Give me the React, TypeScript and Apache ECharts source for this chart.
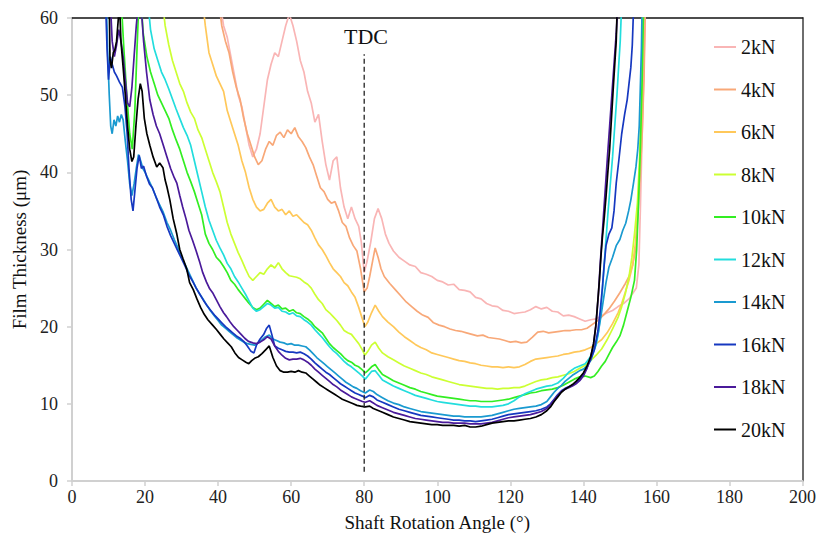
import React, { useEffect, useRef } from "react";
import * as echarts from "echarts";

const loadNames = ["2kN", "4kN", "6kN", "8kN", "10kN", "12kN", "14kN", "16kN", "18kN", "20kN"];
const loadColors = ["#F9B5B5", "#F8A878", "#FFC85A", "#CCFF33", "#33EE22", "#22DDDD", "#1A9AD0", "#1638C0", "#4A1A9A", "#000000"];

const xTicks = { min: 0, max: 200, interval: 20 };
const yTicks = { min: 0, max: 60, interval: 10 };
const tdcAngle = 80;
const tdcSpan = [1.2, 55.3];

const film2kN = [[40.5,62],[41.5,59],[42.5,57.5],[43.5,55],[44.5,52.5],[45.5,50],[46.5,48.5],[47.5,46],[48.5,43.5],[49.5,42],[50.5,43],[51.5,45],[52.5,48.5],[53.5,52],[54.5,54],[55.5,55.5],[56.5,55],[57.5,57],[58.5,59],[59.5,60.5],[60.5,59],[61.5,57],[62.5,54.5],[63.5,53],[64.5,50.5],[65.5,49],[66.5,46.5],[67.5,47.5],[68.5,44],[69.5,41],[70.5,39],[71.5,41.5],[72.5,42],[73.5,38],[74.5,35.5],[75.5,34],[76.5,35.5],[77.5,34],[78.5,33],[79.2,31],[80,27],[80.8,28.5],[81.8,31],[82.8,34],[83.8,35.3],[84.8,34],[85.8,32],[86.8,30.8],[88,29.8],[89.5,29],[91,28.5],[92.5,28],[94,27.8],[95.5,27],[97,26.8],[98.5,26.5],[100,26],[101.5,25.8],[103,25.4],[104.5,25.5],[106,24.8],[107.5,24.7],[109,24.5],[110.5,23.8],[112,23.6],[113.5,23],[115,22.7],[116.5,22.6],[118,22.1],[119.5,22],[121,21.7],[122.5,21.8],[124,21.9],[125.5,22.2],[127,22.6],[128.5,22.3],[130,22.5],[131.5,22],[133,21.9],[134.5,21.4],[136,21.5],[137.5,21.3],[139,21],[140.5,20.7],[142,20.9],[143.5,21],[145,21.4],[146.5,21.8],[148,22.1],[149.5,22.6],[151,23],[152.5,23.6],[153.5,24.3],[154.5,25],[155.2,28],[155.6,35],[156,43],[156.5,52],[157,62]];

const film4kN = [[40.2,62],[41,59],[42,57],[43,55.5],[44,53],[45,51],[46,49.5],[47,47],[48,45],[49,43.5],[50,42],[51,41],[52,41.5],[53,43],[54,44],[55,43.5],[56,44.8],[57,45.2],[58,44.5],[59,45.5],[60,45],[61,45.8],[62,44.6],[63,44],[64,43.2],[65,42],[66,41],[67,39.5],[68,38],[69,37.5],[70,36.5],[71,36],[72,36.2],[73,35],[74,33.5],[75,33],[76,31.5],[77,30.5],[78,29.8],[79,27.5],[80,24.5],[80.8,25],[81.5,26.5],[82.3,28.5],[83,30.2],[83.8,29],[84.6,27.5],[85.5,26.5],[87,25.6],[88.5,24.8],[90,24],[91.5,23.2],[93,22.6],[94.5,22],[96,21.5],[97.5,21.2],[99,20.5],[100.5,20.2],[102,20],[103.5,19.7],[105,19.5],[106.5,19.4],[108,19.2],[109.5,19],[111,18.8],[112.5,18.9],[114,18.6],[115.5,18.5],[117,18.4],[118.5,18.2],[120,18],[121.5,18.1],[123,17.9],[124.5,18],[126,18.6],[127.5,19.3],[129,19.4],[130.5,19.2],[132,19.3],[133.5,19.4],[135,19.5],[136.5,19.5],[138,19.6],[139.5,19.6],[141,19.8],[142.5,20.3],[144,20.8],[145.5,21.5],[147,22.3],[148.5,23.3],[150,24.4],[151.5,25.6],[152.5,26.5],[153.5,28],[154.3,30],[155,35],[155.6,40],[156.1,45],[156.6,52],[157,62]];

const film6kN = [[35.8,62],[36.5,59],[37.5,55.5],[38.5,54],[39.5,52.5],[40.5,51.5],[41.5,50.5],[42.5,48],[43.5,46.5],[44.5,45],[45.5,43.5],[46.5,41.5],[47.5,40],[48.5,38],[49.5,36.5],[50.5,35.5],[51.5,35],[52.5,35.2],[53.5,36],[54.5,36.5],[55.5,35.5],[56.5,35],[57.5,35.2],[58.5,34.5],[59.5,35],[60.5,34.3],[61.5,34.5],[62.5,34],[63.5,33.5],[64.5,33.2],[65.5,32.5],[66.5,31.5],[67.5,30.6],[68.5,30],[69.5,29.2],[70.5,28.3],[71.5,27.5],[72.5,27],[73.5,26.5],[74.5,25.7],[75.5,25.3],[76.5,24.5],[77.5,23.8],[78.5,22.5],[79.5,21],[80.2,20],[81,20.6],[82,21.8],[83,22.8],[84,22],[85,21.3],[86.5,20.6],[88,20],[89.5,19.3],[91,18.7],[92.5,18.2],[94,17.7],[95.5,17.3],[97,17],[98.5,16.6],[100,16.4],[101.5,16.2],[103,16],[104.5,15.8],[106,15.6],[107.5,15.5],[109,15.3],[110.5,15.2],[112,15],[113.5,14.9],[115,14.8],[116.5,14.8],[118,14.7],[119.5,14.8],[121,14.7],[122.5,14.8],[124,15.1],[125.5,15.5],[127,15.8],[128.5,15.9],[130,16],[131.5,16.1],[133,16.2],[134.5,16.4],[136,16.5],[137.5,16.7],[139,16.8],[140.5,17],[142,17.3],[143.5,17.8],[145,18.3],[146.5,19.2],[148,20.4],[149.5,21.8],[150.5,23],[151.5,24.5],[152.5,26],[153.5,28],[154.3,31],[155,36],[155.6,42],[156.1,50],[156.5,62]];

const film8kN = [[24.8,62],[25.5,59],[26.5,56.5],[27.5,54.5],[28.5,53],[29.5,51.5],[30.5,50.5],[31.5,49],[32.5,47.8],[33.5,47],[34.5,45.5],[35.5,44.5],[36.5,43],[37.5,41.5],[38.5,40],[39.5,38.8],[40.5,37.5],[41.5,35.5],[42.5,33.5],[43.5,32],[44.5,30.8],[45.5,29.6],[46.5,28.6],[47.5,27.5],[48.5,26.5],[49.5,26],[50.5,26.5],[51.5,27],[52.5,26.8],[53.5,27.5],[54.5,28],[55.5,27.6],[56.5,28.3],[57.5,27.5],[58.5,27],[59.5,26.6],[60.5,26.5],[61.5,26.4],[62.5,26.2],[63.5,25.8],[64.5,25.5],[65.5,25],[66.5,24.2],[67.5,23.5],[68.5,23],[69.5,22.2],[70.5,21.8],[71.5,21.3],[72.5,20.8],[73.5,20.2],[74.5,19.5],[75.5,19.2],[76.5,19],[77.5,18.4],[78.5,17.8],[79.5,17],[80.2,16.3],[81,16.8],[82,17.6],[83,18],[84,17.2],[85,16.6],[86.5,16.1],[88,15.7],[89.5,15.3],[91,14.9],[92.5,14.6],[94,14.3],[95.5,14],[97,13.8],[98.5,13.5],[100,13.3],[101.5,13.1],[103,12.9],[104.5,12.7],[106,12.5],[107.5,12.4],[109,12.3],[110.5,12.2],[112,12.1],[113.5,12],[115,12],[116.5,11.9],[118,12],[119.5,12],[121,12.1],[122.5,12.1],[124,12.3],[125.5,12.6],[127,12.9],[128.5,13.1],[130,13.2],[131.5,13.4],[133,13.5],[134.5,13.7],[136,13.9],[137.5,14.2],[139,14.6],[140.5,15],[142,15.6],[143.5,16.3],[145,17.1],[146.5,18.3],[148,19.7],[149.5,21.2],[150.5,22.6],[151.5,24.3],[152.5,26.5],[153.3,29],[154,32],[154.8,36],[155.4,42],[155.9,50],[156.3,62]];

const film10kN = [[13.5,62],[14.2,56],[15,50],[15.8,45],[16.5,43],[17.2,48],[17.8,56],[18.3,62],[19,61.5],[19.5,58],[20.5,55],[21.5,53],[22.5,51.5],[23.5,50],[24.5,49],[25.5,48],[26.5,47],[27.5,45.5],[28.5,44.2],[29.5,43],[30.5,41.5],[31.5,40],[32.5,38.8],[33.5,37.5],[34.5,36],[35.5,34.5],[36.5,32],[37.5,30.8],[38.5,30],[39.5,29],[40.5,28.5],[41.5,27.8],[42.5,27],[43.5,26],[44.5,25.5],[45.5,24.8],[46.5,24.2],[47.5,23.6],[48.5,23],[49.5,22.5],[50.5,22.2],[51.5,22.4],[52.5,22.9],[53.5,23.4],[54.5,23],[55.5,22.6],[56.5,22.8],[57.5,22.3],[58.5,22.4],[59.5,22],[60.5,22.2],[61.5,21.8],[62.5,21.7],[63.5,21.3],[64.5,21],[65.5,20.6],[66.5,20],[67.5,19.6],[68.5,19.2],[69.5,18.5],[70.5,17.8],[71.5,17.3],[72.5,16.9],[73.5,16.5],[74.5,16],[75.5,15.6],[76.5,15.4],[77.5,15],[78.5,14.8],[79.5,14.4],[80.3,14],[81,14.3],[82,14.8],[83,15.1],[84,14.4],[85,13.8],[86.5,13.4],[88,13],[89.5,12.7],[91,12.4],[92.5,12.1],[94,11.9],[95.5,11.6],[97,11.4],[98.5,11.2],[100,11],[101.5,10.9],[103,10.8],[104.5,10.7],[106,10.6],[107.5,10.5],[109,10.4],[110.5,10.4],[112,10.3],[113.5,10.3],[115,10.3],[116.5,10.4],[118,10.5],[119.5,10.6],[121,10.8],[122.5,11],[124,11.2],[125.5,11.4],[127,11.5],[128.5,11.7],[130,11.8],[131.5,11.9],[133,12.1],[134.5,12.4],[136,12.8],[137.5,13.2],[139,13.5],[140.5,13.6],[142,13.4],[143,13.6],[144,14.2],[145,14.9],[146,15.5],[147,16.4],[148,17.3],[149,18],[150,18.8],[151,20.2],[152,22],[153,23.8],[154,26],[154.6,30],[155.1,36],[155.6,43],[156.1,52],[156.5,62]];

const film12kN = [[20.8,62],[21.5,58.5],[22.5,56],[23.5,54.5],[24.5,53],[25.5,52],[26.5,50.8],[27.5,49.5],[28.5,48.2],[29.5,47],[30.5,45.8],[31.5,44.8],[32.5,43.5],[33.5,41.5],[34.5,39.5],[35.5,37.5],[36.5,35.5],[37.5,33.8],[38.5,32.5],[39.5,31.2],[40.5,30.2],[41.5,29.3],[42.5,28.2],[43.5,27.5],[44.5,26.5],[45.5,25.8],[46.5,25],[47.5,24.2],[48.5,23.3],[49.5,22.4],[50.5,22],[51.5,22.2],[52.5,22.6],[53.5,23],[54.5,22.8],[55.5,22.4],[56.5,22.5],[57.5,22],[58.5,21.9],[59.5,21.6],[60.5,21.8],[61.5,21.4],[62.5,21.3],[63.5,20.9],[64.5,20.6],[65.5,20.2],[66.5,19.6],[67.5,19.1],[68.5,18.6],[69.5,18],[70.5,17.4],[71.5,16.9],[72.5,16.5],[73.5,16],[74.5,15.5],[75.5,15.1],[76.5,14.8],[77.5,14.4],[78.5,14],[79.5,13.6],[80.3,13.2],[81,13.6],[82,14.2],[83,14.3],[84,13.7],[85,13.1],[86.5,12.7],[88,12.3],[89.5,12],[91,11.7],[92.5,11.4],[94,11.1],[95.5,10.9],[97,10.7],[98.5,10.5],[100,10.3],[101.5,10.2],[103,10.1],[104.5,10],[106,9.9],[107.5,9.8],[109,9.7],[110.5,9.7],[112,9.6],[113.5,9.6],[115,9.6],[116.5,9.7],[118,9.8],[119.5,10],[121,10.4],[122.5,10.9],[124,11.3],[125.5,11.6],[127,11.9],[128.5,12.1],[130,12.3],[131.5,12.4],[133,12.7],[134.5,13.3],[136,14.1],[137.5,14.6],[139,14.9],[140.5,15.2],[141.5,15.8],[142.5,16.6],[143.5,17.6],[144.2,19.5],[144.8,22],[145.4,26],[146,30],[146.7,34.5],[147.3,38],[148,42],[148.6,46],[149.2,50],[149.7,54],[150.1,57],[150.5,62]];

const film14kN = [[9.4,62],[9.8,55],[10.2,50],[10.6,46],[11,45],[11.5,46.8],[12,46],[12.5,47.3],[13,46.5],[13.5,47.5],[14,46.8],[14.6,44],[15.2,41.5],[15.8,38.5],[16.4,37],[17,38.5],[17.6,40.5],[18.2,42.3],[18.8,41.5],[19.4,40.5],[20,40],[21,39],[22,38],[23,36.8],[24,35.8],[25,34.8],[26,33.5],[27,32.5],[28,31.3],[29,30.2],[30,29],[31,28],[32,27],[33,26],[34,25],[35,24.2],[36,23.5],[37,22.7],[38,22],[39,21.4],[40,20.8],[41,20.2],[42,19.8],[43,19.4],[44,19],[45,18.6],[46,18.3],[47,18],[48,17.8],[49,17.7],[50,17.6],[51,17.9],[52,18.3],[53,18.7],[54,18.9],[55,18.4],[56,18.2],[57,18],[58,17.9],[59,17.7],[60,17.8],[61,17.6],[62,17.6],[63,17.5],[64,17.4],[65,17],[66,16.5],[67,16],[68,15.6],[69,15.2],[70,14.8],[71,14.4],[72,14],[73,13.6],[74,13.2],[75,12.8],[76,12.5],[77,12.2],[78,12],[79,11.7],[80.3,11.4],[81.5,11.8],[82.5,11.6],[83.5,11.2],[85,10.8],[86.5,10.4],[88,10.1],[89.5,9.9],[91,9.6],[92.5,9.4],[94,9.2],[95.5,9],[97,8.9],[98.5,8.8],[100,8.7],[101.5,8.6],[103,8.5],[104.5,8.4],[106,8.4],[107.5,8.3],[109,8.3],[110.5,8.3],[112,8.3],[113.5,8.4],[115,8.5],[116.5,8.7],[118,8.9],[119.5,9.1],[121,9.3],[122.5,9.4],[124,9.5],[125.5,9.6],[127,9.7],[128.5,9.9],[130,10.3],[131,10.9],[132,11.5],[133,12],[134,12.4],[135,12.9],[136,13.3],[137,13.7],[138,14],[139,14.3],[140,14.5],[141,14.9],[142,15.6],[143,17],[144,19],[144.8,21.3],[145.5,23.5],[146.2,25.7],[147,27.7],[148,29],[149,30.5],[150,31.3],[150.8,32.5],[151.6,33.4],[152.4,35],[153,36.4],[153.7,38.5],[154.4,40.7],[154.9,43],[155.3,46],[155.6,51],[155.9,56],[156.1,62]];

const film16kN = [[9.2,62],[9.6,56],[10,52],[10.5,55],[11,54],[11.6,53],[12.2,52.5],[13,51.7],[13.8,51],[14.5,48.5],[15.1,45],[15.6,40.5],[16.2,36.5],[16.7,35],[17.2,37.5],[17.8,40.5],[18.4,42.2],[19,40.5],[19.6,40.8],[20.4,39.5],[21.2,38.5],[22,38],[23,36.8],[24,35.5],[25,34.5],[26,33],[27,31.8],[28,30.8],[29,29.8],[30,28.8],[31,27.8],[32,26.7],[33,25.9],[34,25],[35,24.2],[36,23.4],[37,22.7],[38,22.1],[39,21.5],[40,21],[41,20.5],[42,20],[43,19.6],[44,19.2],[45,18.8],[46,18.5],[47,18.1],[48,17.5],[49,16.8],[49.8,16.6],[50.5,17.6],[51.5,18.4],[52.5,19],[53.3,19.8],[54,20.2],[54.7,19],[55.5,17.5],[56.5,17.2],[57.5,17],[58.5,16.8],[59.5,16.7],[60.5,16.7],[61.5,16.6],[62.5,16.7],[63.5,16.5],[64.5,16.2],[65.5,15.8],[66.5,15.3],[67.5,14.9],[68.5,14.5],[69.5,14.1],[70.5,13.8],[71.5,13.4],[72.5,13],[73.5,12.6],[74.5,12.3],[75.5,12],[76.5,11.7],[77.5,11.4],[78.5,11.2],[79.5,11],[80.3,10.8],[81.5,11.1],[82.5,10.9],[83.5,10.5],[85,10.2],[86.5,9.9],[88,9.6],[89.5,9.3],[91,9.1],[92.5,8.9],[94,8.7],[95.5,8.5],[97,8.4],[98.5,8.3],[100,8.2],[101.5,8.1],[103,8],[104.5,7.9],[106,7.9],[107.5,7.8],[109,7.8],[110.5,7.7],[112,7.8],[113.5,7.9],[115,8],[116.5,8.2],[118,8.4],[119.5,8.6],[121,8.7],[122.5,8.8],[124,8.9],[125.5,9],[127,9.1],[128.5,9.3],[130,9.6],[131,10],[132,10.6],[133,11.2],[134,11.7],[135,12],[136,12.2],[137,12.4],[138,12.7],[139,13.1],[140,13.8],[141,14.7],[142,15.8],[143,17],[144,19.5],[144.6,22],[145.2,25],[145.7,28],[146.2,30.5],[147,32],[147.8,32.8],[148.4,35],[149,38.6],[149.7,41.5],[150.5,45],[151.3,47.5],[152,49.4],[152.5,51.5],[153,53.6],[153.4,56.5],[153.8,62]];

const film18kN = [[10.5,62],[11,57],[11.6,55],[12.2,56.5],[12.8,58.5],[13.4,57],[14,55],[14.6,52],[15.2,49],[15.8,48.5],[16.4,51],[17,55],[17.6,59],[18.2,62],[19,61],[19.6,57],[20.4,53],[21.3,49.4],[22.2,47.5],[23.1,46],[24,45],[25,43.5],[26,42],[27,40.5],[28,39.3],[28.7,38.6],[29.5,37],[30.3,35.5],[31.2,34],[32,32.5],[33,31.2],[34,29.8],[35,28.3],[35.8,27],[36.8,25.8],[37.7,24.9],[38.5,24.4],[39.5,23.5],[40.5,22.6],[41.5,21.8],[42.3,21.3],[43.3,20.6],[44.3,20],[45.3,19.5],[46.3,19],[47.3,18.5],[48.3,18.1],[49.5,17.9],[50.5,17.8],[51.5,18],[52.5,18.3],[53.5,18.7],[54.5,18.4],[55.5,17.5],[56.5,16.8],[57.5,16.3],[58.5,15.9],[59.5,15.7],[60.5,15.8],[61.5,15.8],[62.5,15.9],[63.5,15.7],[64.5,15.4],[65.5,15],[66.5,14.5],[67.5,14.1],[68.5,13.7],[69.5,13.3],[70.5,12.9],[71.5,12.5],[72.5,12.2],[73.5,11.8],[74.5,11.5],[75.5,11.2],[76.5,10.9],[77.5,10.7],[78.5,10.5],[79.5,10.3],[80.3,10.2],[81.5,10.4],[82.5,10.1],[83.5,9.8],[85,9.5],[86.5,9.2],[88,8.9],[89.5,8.7],[91,8.5],[92.5,8.3],[94,8.1],[95.5,8],[97,7.9],[98.5,7.8],[100,7.7],[101.5,7.6],[103,7.6],[104.5,7.5],[106,7.5],[107.5,7.5],[109,7.4],[110.5,7.4],[112,7.4],[113.5,7.5],[115,7.6],[116.5,7.8],[118,8],[119.5,8.2],[121,8.3],[122.5,8.4],[124,8.5],[125.5,8.6],[127,8.8],[128.5,9],[130,9.4],[131,9.9],[132,10.5],[133,11.1],[134,11.6],[135,11.9],[136,12.1],[137,12.3],[138,12.6],[139,13],[140,13.6],[141,14.6],[142,16],[142.8,17.8],[143.5,20.5],[144.1,24],[144.6,28],[145.1,31.5],[145.6,35],[146.1,38.5],[146.6,42],[147.2,46],[147.8,50],[148.4,54],[149,58],[149.5,62]];

const film20kN = [[10.2,62],[10.4,54.6],[10.8,53.5],[11.3,55.5],[11.7,55.8],[12.2,57],[12.7,60],[13,62],[13.4,57],[14,53.6],[14.6,50],[15.2,46],[15.8,43],[16.4,41.4],[16.9,42],[17.5,46],[18.1,49.5],[18.7,51.5],[19.2,50.5],[19.8,47],[20.5,45],[21.3,43.5],[22.2,42],[23.2,40.7],[24,41.2],[24.9,40.6],[25.5,39],[26,38.1],[26.8,36.4],[27.7,34],[28.7,32],[29.5,30],[30.4,28.8],[31.4,27.5],[32.2,25.7],[33.2,24.8],[34.2,23.6],[35.2,22.5],[36.2,21.6],[37.2,20.9],[38.5,20.2],[39.6,19.6],[40.6,19],[41.6,18.4],[42.6,17.9],[43.6,17.4],[44.6,16.6],[45.6,16],[46.6,15.7],[47.6,15.4],[48.4,15.2],[49.2,15.6],[50,15.9],[51,16.1],[52,16.5],[53,17],[54,17.5],[55,16],[56,14.9],[57,14.3],[58,14.1],[59,14.1],[60,14.2],[61,14.1],[62,14.3],[63,14.1],[64,14],[65,13.6],[66,13.2],[67,12.8],[68,12.4],[69,12.1],[70,11.8],[71,11.5],[72,11.2],[73,10.9],[74,10.6],[75,10.4],[76,10.2],[77,10],[78,9.8],[79,9.7],[80.3,9.6],[81.5,9.7],[82.5,9.4],[83.5,9.2],[85,8.9],[86.5,8.6],[88,8.3],[89.5,8.1],[91,7.9],[92.5,7.7],[94,7.6],[95.5,7.5],[97,7.4],[98.5,7.3],[100,7.3],[101.5,7.2],[103,7.2],[104.5,7.2],[106,7.1],[107.5,7.2],[109,7],[110.5,7],[112,7.1],[113.5,7.3],[115,7.5],[116.5,7.6],[118,7.7],[119.5,7.8],[121,7.8],[122.5,7.9],[124,8],[125.5,8.1],[127,8.3],[128.5,8.6],[130,9.1],[131,9.6],[132,10.3],[133,10.9],[134,11.5],[135,11.9],[136,12.2],[137,12.5],[138,12.9],[139,13.4],[140,14],[141,14.9],[142,16.1],[142.8,17.8],[143.4,20],[143.9,23],[144.4,26],[144.8,29],[145.2,31.5],[145.7,34],[146.2,36.8],[146.7,40],[147.2,43],[147.7,47],[148.2,51],[148.6,54],[149,57],[149.3,62]];

const seriesData = [film2kN, film4kN, film6kN, film8kN, film10kN, film12kN, film14kN, film16kN, film18kN, film20kN];

const SERIF = "Liberation Serif";

export default function App() {
  const ref = useRef<HTMLDivElement>(null);
  useEffect(() => {
    if (!ref.current) return;
    const chart = echarts.init(ref.current, null, { renderer: "svg" });
    const lines = loadNames.map((name, i) => ({
      name,
      type: "line",
      data: seriesData[i],
      symbol: "none",
      showSymbol: false,
      clip: true,
      lineStyle: { color: loadColors[i], width: 1.7 },
      itemStyle: { color: loadColors[i] },
      z: 2 + i,
    }));
    const axisGray = "#D0D0D0";
    chart.setOption({
      animation: false,
      backgroundColor: "#ffffff",
      textStyle: { fontFamily: SERIF },
      grid: { left: 72, right: 15, top: 18, bottom: 61, containLabel: false },
      legend: {
        data: loadNames,
        orient: "vertical",
        left: 709,
        top: 32,
        itemWidth: 22,
        itemHeight: 2,
        itemGap: 22.5,
        icon: "rect",
        textStyle: { fontFamily: SERIF, fontSize: 20, color: "#111" },
      },
      xAxis: [
        {
          type: "value",
          min: xTicks.min,
          max: xTicks.max,
          interval: xTicks.interval,
          name: "Shaft Rotation Angle (°)",
          nameLocation: "middle",
          nameGap: 32,
          nameTextStyle: { fontFamily: SERIF, fontSize: 19, color: "#111" },
          axisLine: { show: true, onZero: false, lineStyle: { color: axisGray, width: 2 } },
          axisTick: { show: true, length: 5, lineStyle: { color: axisGray, width: 1.5 } },
          axisLabel: { fontFamily: SERIF, fontSize: 18, color: "#222", margin: 7 },
          splitLine: { show: false },
        },
        {
          type: "value",
          position: "top",
          min: xTicks.min,
          max: xTicks.max,
          axisLine: { show: true, onZero: false, lineStyle: { color: "#111", width: 1.5 } },
          axisTick: { show: false },
          axisLabel: { show: false },
          splitLine: { show: false },
        },
      ],
      yAxis: [
        {
          type: "value",
          min: yTicks.min,
          max: yTicks.max,
          interval: yTicks.interval,
          name: "Film Thickness (μm)",
          nameLocation: "middle",
          nameGap: 43,
          nameTextStyle: { fontFamily: SERIF, fontSize: 19, color: "#111" },
          axisLine: { show: true, onZero: false, lineStyle: { color: axisGray, width: 2 } },
          axisTick: { show: true, length: 5, lineStyle: { color: axisGray, width: 1.5 } },
          axisLabel: { fontFamily: SERIF, fontSize: 18, color: "#222", margin: 14 },
          splitLine: { show: false },
        },
        {
          type: "value",
          position: "right",
          min: yTicks.min,
          max: yTicks.max,
          axisLine: { show: true, onZero: false, lineStyle: { color: "#6E6E6E", width: 2 } },
          axisTick: { show: false },
          axisLabel: { show: false },
          splitLine: { show: false },
        },
      ],
      series: [
        ...lines,
        {
          name: "TDC",
          type: "line",
          data: [[tdcAngle, tdcSpan[0]], [tdcAngle, tdcSpan[1]]],
          symbol: "none",
          silent: true,
          lineStyle: { color: "#222", width: 1.3, type: [5, 3] },
          z: 20,
        },
      ],
      graphic: [
        {
          type: "text",
          x: 366,
          y: 36,
          style: {
            text: "TDC",
            fontFamily: SERIF,
            fontSize: 22,
            fill: "#111",
            textAlign: "center",
            textVerticalAlign: "middle",
          },
        },
      ],
    });
    return () => chart.dispose();
  }, []);
  return <div ref={ref} style={{ position: "fixed", left: 0, top: 0, width: 819, height: 542, background: "#fff" }} />;
}
